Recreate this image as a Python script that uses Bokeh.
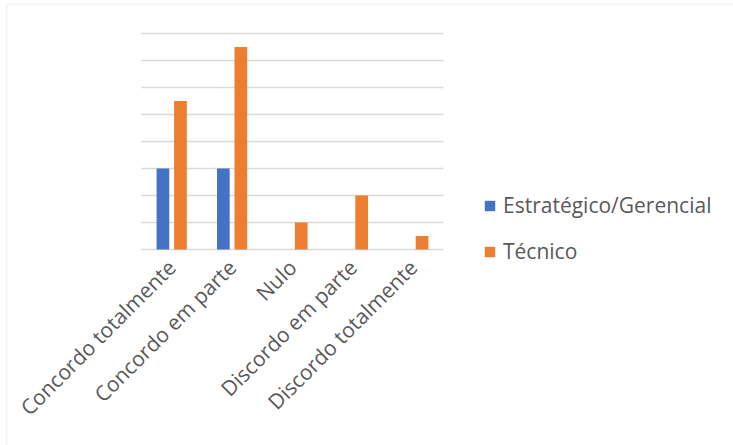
import math
from bokeh.plotting import figure
from bokeh.models import (ColumnDataSource, Range1d, FixedTicker, LinearAxis,
                          Legend, LegendItem, BoxAnnotation)
from bokeh.transform import dodge
from bokeh.embed import file_html
from bokeh.resources import INLINE

# Response categories and counts per respondent group
categories = ["Concordo totalmente", "Concordo em parte", "Nulo",
              "Discordo em parte", "Discordo totalmente"]
estrategico = [3, 3, 0, 0, 0]
tecnico = [5.5, 7.5, 1, 2, 0.5]
series_names = ["Estratégico/Gerencial", "Técnico"]
grid_levels = list(range(0, 9))

BLUE = "#4472C4"
ORANGE = "#ED7D31"
GRID = "#d9d9d9"
TEXT = "#595959"
FONT = "Open Sans"

# Canvas geometry: the plotting frame covers the whole canvas, and the
# category band / value scale are placed inside it.
W, H = 733, 445
BAND_LEFT, BAND_RIGHT = 141, 443      # px span of the five categories
BASE_Y, TOP_Y = 249, 33               # px of value 0 and value 8
n = len(categories)
ux = (BAND_RIGHT - BAND_LEFT) / n
uy = (BASE_Y - TOP_Y) / grid_levels[-1]
x_range = Range1d(-BAND_LEFT / ux, n + (W - BAND_RIGHT) / ux)
y_range = Range1d(-(H - BASE_Y) / uy, grid_levels[-1] + TOP_Y / uy)

centers = [i + 0.5 for i in range(n)]
source = ColumnDataSource(dict(x=centers, cat=categories,
                               est=estrategico, tec=tecnico))

p = figure(width=W, height=H, x_range=x_range, y_range=y_range,
           output_backend="svg", toolbar_location=None,
           x_axis_location=None, y_axis_location=None,
           min_border=0, min_border_left=0, min_border_right=0,
           min_border_top=0, min_border_bottom=0)
p.outline_line_color = None
p.background_fill_color = "white"
p.border_fill_color = "white"
p.grid.visible = False

# Horizontal gridlines across the category band (value 0 is the baseline)
p.segment(x0=0, x1=n, y0=grid_levels, y1=grid_levels,
          line_color=GRID, line_width=1.4)

r_est = p.vbar(x=dodge("x", -0.145), top="est", width=0.21,
               source=source, color=BLUE, line_color=None)
r_tec = p.vbar(x=dodge("x", 0.145), top="tec", width=0.21,
               source=source, color=ORANGE, line_color=None)

# Category axis pinned to the baseline, labels slanted at 45 degrees
xaxis = LinearAxis(ticker=FixedTicker(ticks=centers),
                   major_label_overrides={c: lab for c, lab in zip(centers, categories)},
                   fixed_location=0)
xaxis.axis_line_color = None
xaxis.major_tick_line_color = None
xaxis.minor_tick_line_color = None
xaxis.major_label_orientation = math.pi / 4
xaxis.major_label_text_font = FONT
xaxis.major_label_text_font_size = "21px"
xaxis.major_label_text_color = TEXT
xaxis.major_label_standoff = 8
p.add_layout(xaxis, "below")

legend = Legend(items=[LegendItem(label=series_names[0], renderers=[r_est]),
                       LegendItem(label=series_names[1], renderers=[r_tec])],
                location=(483, 180), border_line_color=None,
                background_fill_alpha=0, padding=10, margin=0,
                label_text_font=FONT, label_text_font_size="21px",
                label_text_color=TEXT, glyph_width=13, glyph_height=13,
                label_standoff=7, label_height=27, spacing=18)
p.add_layout(legend)

# Light frame around the chart area (left and top edges visible)
p.add_layout(BoxAnnotation(left=6, right=900, top=4, bottom=700,
                           left_units="canvas", right_units="canvas",
                           top_units="canvas", bottom_units="canvas",
                           fill_alpha=0, line_color=GRID, line_width=2,
                           level="overlay"))

open("out.html", "w").write(file_html(p, INLINE))
